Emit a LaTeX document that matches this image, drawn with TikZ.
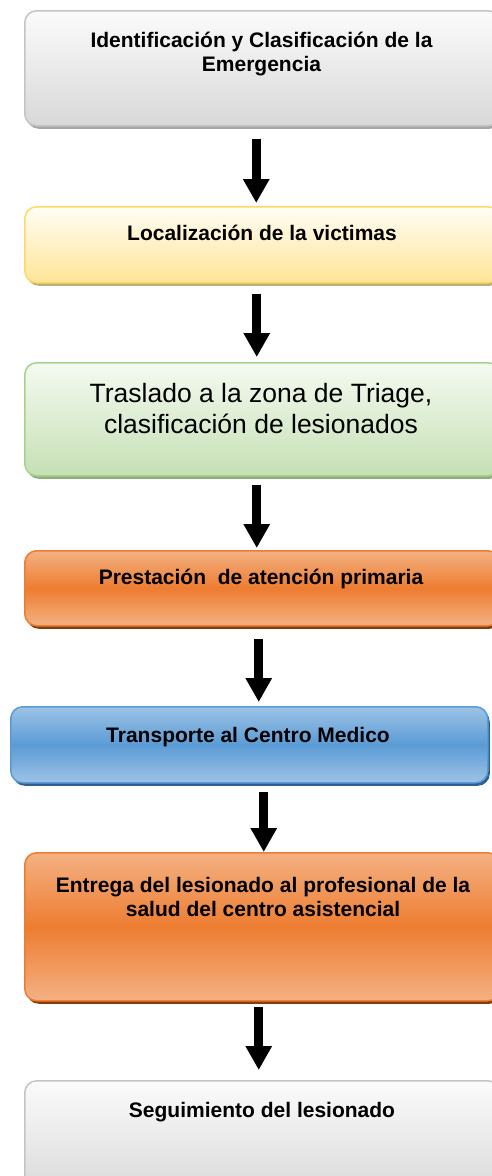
\documentclass[tikz,border=0pt]{standalone}
\usepackage{fontspec}
\setmainfont{Liberation Sans}
\usetikzlibrary{arrows.meta,shadows}
\definecolor{grayB}{HTML}{C4C4C4}
\definecolor{grayT}{HTML}{FBFBFB}
\definecolor{grayM}{HTML}{D8D8D8}
\definecolor{grayS}{HTML}{A6A6A6}
\definecolor{yelB}{HTML}{FFD966}
\definecolor{yelT}{HTML}{FFFDF6}
\definecolor{yelM}{HTML}{FFE596}
\definecolor{yelS}{HTML}{BFAE7F}
\definecolor{grnB}{HTML}{A9D18E}
\definecolor{grnT}{HTML}{F5FAF1}
\definecolor{grnM}{HTML}{C5E0B4}
\definecolor{grnS}{HTML}{8FAE7A}
\definecolor{orgB}{HTML}{ED7D31}
\definecolor{orgL}{HTML}{F4B183}
\definecolor{orgS}{HTML}{843C0C}
\definecolor{bluB}{HTML}{5B9BD5}
\definecolor{bluL}{HTML}{9DC3E6}
\definecolor{bluS}{HTML}{2F5F8F}
\tikzset{
  x=1pt, y=-1pt,
  boxbase/.style={rounded corners=12pt, line width=1.5pt, anchor=north west, inner sep=0pt},
  graybox/.style={boxbase, draw=grayB, top color=grayT, bottom color=grayM,
    drop shadow={shadow xshift=2pt, shadow yshift=-3pt, fill=grayS, opacity=1}},
  yelbox/.style={boxbase, draw=yelB, top color=yelT, bottom color=yelM,
    drop shadow={shadow xshift=2pt, shadow yshift=-3pt, fill=yelS, opacity=1}},
  grnbox/.style={boxbase, draw=grnB, top color=grnT, bottom color=grnM,
    drop shadow={shadow xshift=2pt, shadow yshift=-3pt, fill=grnS, opacity=1}},
  orgbox/.style={boxbase, draw=orgB, top color=orgL, bottom color=orgL, middle color=orgB,
    drop shadow={shadow xshift=2pt, shadow yshift=-3pt, fill=orgS, opacity=1}},
  blubox/.style={boxbase, draw=bluB, top color=bluL, bottom color=bluL, middle color=bluB,
    drop shadow={shadow xshift=2pt, shadow yshift=-3pt, fill=bluS, opacity=1}},
  boldtxt/.style={font=\fontsize{21}{24}\selectfont\bfseries, align=center, anchor=base, inner sep=0pt},
  regtxt/.style={font=\fontsize{26.5}{31}\selectfont, align=center, anchor=base, inner sep=0pt},
  arr/.style={line width=9pt, -{Triangle[width=25pt,length=24pt]}},
}
\begin{document}
\begin{tikzpicture}
\useasboundingbox (0,0) rectangle (491,1176);
% boxes
\node[graybox, minimum width=475pt, minimum height=115pt] (b1) at (24,10) {};
\node[yelbox, minimum width=475pt, minimum height=76pt] (b2) at (24,206) {};
\node[grnbox, minimum width=475pt, minimum height=113pt] (b3) at (24,362) {};
\node[orgbox, minimum width=475pt, minimum height=75pt] (b4) at (24,550) {};
\node[blubox, minimum width=477pt, minimum height=76pt] (b5) at (10,706) {};
\node[orgbox, minimum width=475pt, minimum height=148pt] (b6) at (24,852) {};
\node[graybox, minimum width=475pt, minimum height=118pt] (b7) at (24,1080) {};
% texts (anchor=base of a multi-line node is the baseline of its last line)
\node[boldtxt] (t1) at (261.5,71) {Identificación y Clasificación de la\\Emergencia};
\node[boldtxt] (t2) at (262,240) {Localización de la victimas};
\node[regtxt] (t3) at (261,433) {Traslado a la zona de Triage,\\clasificación de lesionados};
\node[boldtxt] (t4) at (261,584) {Prestación~ de atención primaria};
\node[boldtxt] (t5) at (248,742) {Transporte al Centro Medico};
\node[boldtxt] (t6) at (263,916) {Entrega del lesionado al profesional de la\\salud del centro asistencial};
\node[boldtxt] (t7) at (262,1117) {Seguimiento del lesionado};
% arrows
\draw[arr] ([xshift=-6pt,yshift=-12pt]b1.south) -- ([xshift=-6pt,yshift=3pt]b2.north);
\draw[arr] ([xshift=-5.5pt,yshift=-10pt]b2.south) -- ([xshift=-5.5pt,yshift=5pt]b3.north);
\draw[arr] ([xshift=-5.5pt,yshift=-8pt]b3.south) -- ([xshift=-5.5pt,yshift=2pt]b4.north);
\draw[arr] ([xshift=-3.5pt,yshift=-12pt]b4.south) -- ([xshift=9.5pt,yshift=4pt]b5.north);
\draw[arr] ([xshift=14.5pt,yshift=-8pt]b5.south) -- ([xshift=1.5pt,yshift=0pt]b6.north);
\draw[arr] ([xshift=-3.5pt,yshift=-5pt]b6.south) -- ([xshift=-3.5pt,yshift=10pt]b7.north);
\end{tikzpicture}
\end{document}
